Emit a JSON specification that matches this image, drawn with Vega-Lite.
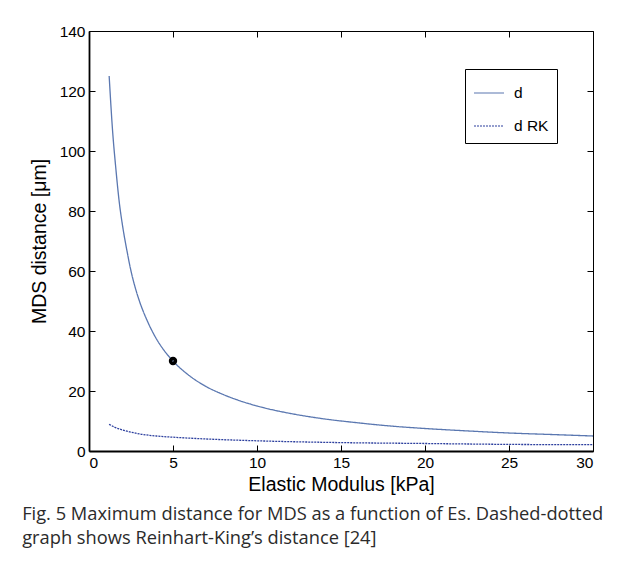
{
  "$schema": "https://vega.github.io/schema/vega-lite/v6.json",
  "width": 504,
  "height": 420,
  "autosize": {"type": "pad"},
  "padding": {"left": 22, "top": 24, "right": 20, "bottom": 10},
  "background": "white",
  "title": {
    "text": ["Fig. 5  Maximum distance for MDS as a function of Es. Dashed-dotted", "graph shows Reinhart-King’s distance [24]"],
    "orient": "bottom",
    "anchor": "start",
    "frame": "bounds",
    "dx": -7,
    "offset": 12,
    "font": "Open Sans",
    "fontSize": 18.3,
    "fontWeight": "normal",
    "color": "#2b2b2b",
    "lineHeight": 24
  },
  "datasets": {
    "curves": [
      {"E": 1.2, "dist": 125, "series": "d"},
      {"E": 1.4, "dist": 107, "series": "d"},
      {"E": 1.6, "dist": 94, "series": "d"},
      {"E": 1.8, "dist": 83, "series": "d"},
      {"E": 2.0, "dist": 75, "series": "d"},
      {"E": 2.25, "dist": 67, "series": "d"},
      {"E": 2.5, "dist": 60, "series": "d"},
      {"E": 2.75, "dist": 54.5, "series": "d"},
      {"E": 3.0, "dist": 50, "series": "d"},
      {"E": 3.5, "dist": 43, "series": "d"},
      {"E": 4.0, "dist": 37.5, "series": "d"},
      {"E": 4.5, "dist": 33.3, "series": "d"},
      {"E": 5.0, "dist": 30, "series": "d"},
      {"E": 6.0, "dist": 25, "series": "d"},
      {"E": 7.0, "dist": 21.4, "series": "d"},
      {"E": 8.0, "dist": 18.8, "series": "d"},
      {"E": 9.0, "dist": 16.7, "series": "d"},
      {"E": 10.0, "dist": 15, "series": "d"},
      {"E": 12.0, "dist": 12.5, "series": "d"},
      {"E": 14.0, "dist": 10.7, "series": "d"},
      {"E": 16.0, "dist": 9.4, "series": "d"},
      {"E": 18.0, "dist": 8.3, "series": "d"},
      {"E": 20.0, "dist": 7.5, "series": "d"},
      {"E": 22.5, "dist": 6.7, "series": "d"},
      {"E": 25.0, "dist": 6.0, "series": "d"},
      {"E": 27.5, "dist": 5.5, "series": "d"},
      {"E": 30.0, "dist": 5.0, "series": "d"},
      {"E": 1.2, "dist": 8.9, "series": "d RK"},
      {"E": 1.5, "dist": 8.0, "series": "d RK"},
      {"E": 2.0, "dist": 7.0, "series": "d RK"},
      {"E": 2.5, "dist": 6.3, "series": "d RK"},
      {"E": 3.0, "dist": 5.7, "series": "d RK"},
      {"E": 4.0, "dist": 5.0, "series": "d RK"},
      {"E": 5.0, "dist": 4.6, "series": "d RK"},
      {"E": 7.0, "dist": 4.0, "series": "d RK"},
      {"E": 10.0, "dist": 3.4, "series": "d RK"},
      {"E": 15.0, "dist": 2.8, "series": "d RK"},
      {"E": 20.0, "dist": 2.5, "series": "d RK"},
      {"E": 25.0, "dist": 2.2, "series": "d RK"},
      {"E": 30.0, "dist": 2.1, "series": "d RK"}
    ],
    "marker": [{"E": 5.0, "dist": 30}]
  },
  "layer": [
    {
      "data": {"name": "curves"},
      "mark": {"type": "line", "strokeWidth": 1.3, "interpolate": "monotone"},
      "encoding": {
        "x": {
          "field": "E", "type": "quantitative",
          "scale": {"domain": [0, 30], "nice": false, "zero": false},
          "axis": {"orient": "bottom", "title": "Elastic Modulus [kPa]", "values": [0, 5, 10, 15, 20, 25, 30], "grid": false,
                   "tickSize": -6, "labelPadding": 10, "domainWidth": 1.8, "titlePadding": 5}
        },
        "y": {
          "field": "dist", "type": "quantitative",
          "scale": {"domain": [0, 140], "nice": false},
          "axis": {"orient": "left", "title": "MDS distance [μm]", "values": [0, 20, 40, 60, 80, 100, 120, 140], "grid": false,
                   "tickSize": -6, "labelPadding": 10, "domainWidth": 1.8, "titlePadding": 10}
        },
        "color": {
          "field": "series", "type": "nominal",
          "scale": {"domain": ["d", "d RK"], "range": ["#5a77b0", "#2c3f9e"]},
          "legend": {"title": null, "orient": "none", "legendX": 376, "legendY": 38, "symbolType": "stroke", "symbolSize": 900,
                     "symbolStrokeWidth": 1.2, "labelFontSize": 15.5, "labelFont": "Liberation Sans", "labelColor": "black",
                     "strokeColor": "black", "fillColor": "white", "padding": 8, "rowPadding": 8, "labelOffset": 9,
                     "labelLimit": 200}
        },
        "strokeDash": {
          "field": "series", "type": "nominal",
          "scale": {"domain": ["d", "d RK"], "range": [[1, 0], [2, 1]]},
          "legend": null
        }
      }
    },
    {
      "data": {"name": "marker"},
      "mark": {"type": "point", "shape": "circle", "filled": false, "stroke": "black", "strokeWidth": 3.5, "size": 24, "opacity": 1},
      "encoding": {
        "x": {"field": "E", "type": "quantitative",
              "axis": {"orient": "top", "title": null, "labels": false, "values": [0, 5, 10, 15, 20, 25, 30], "grid": false, "tickSize": -6}},
        "y": {"field": "dist", "type": "quantitative",
              "axis": {"orient": "right", "title": null, "labels": false, "values": [0, 20, 40, 60, 80, 100, 120, 140], "grid": false, "tickSize": -6}}
      }
    }
  ],
  "resolve": {"axis": {"x": "independent", "y": "independent"}},
  "config": {
    "view": {"stroke": null},
    "axis": {
      "domainColor": "black", "tickColor": "black", "labelColor": "black", "titleColor": "black",
      "labelFont": "Liberation Sans", "titleFont": "Liberation Sans", "labelFontSize": 15.5, "titleFontSize": 19.5,
      "titleFontWeight": "normal", "tickWidth": 1
    }
  }
}
